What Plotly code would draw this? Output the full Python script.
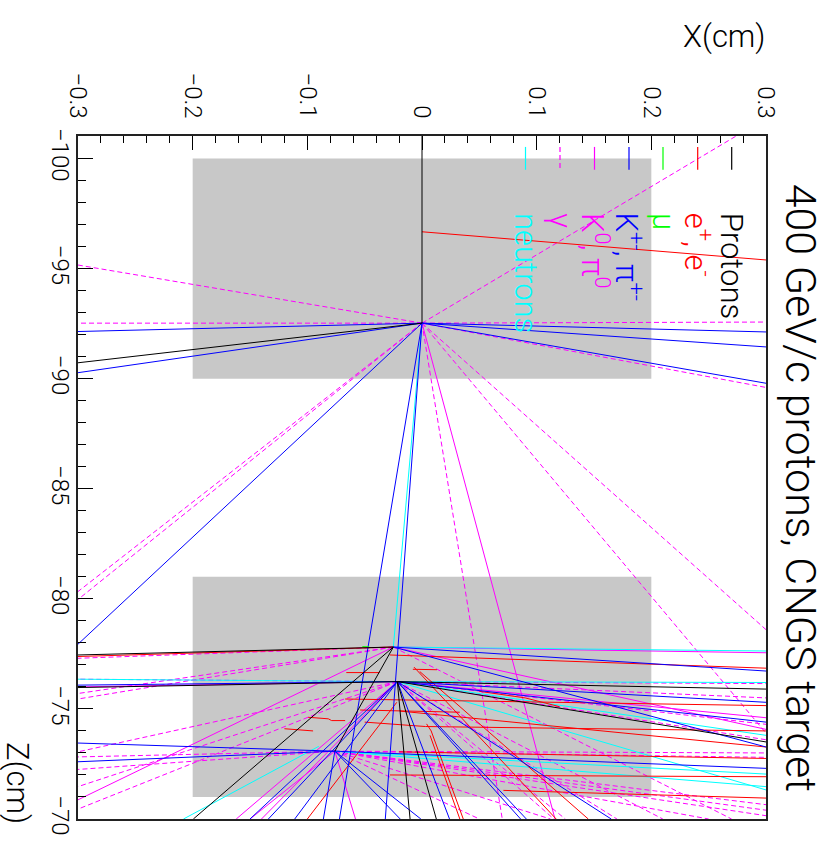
import plotly.graph_objects as go

# ---------------- data (cm) ----------------
# interaction vertices (X, Z)
V1 = (0.0, -92.52)
V2 = (-0.025, -77.81)
V3 = (-0.0215, -76.24)
V4 = (-0.076, -73.08)

# target segments (Z start, Z end) and half width in X
target_z_start = [-100.0, -81.0]
target_z_end = [-90.0, -71.0]
target_halfwidth = 0.2

# tracks: each is a list of (X, Z) points
protons = [
    [(0.0, -101.02), V1],
    [V1, (-0.3, -90.72)],
    [V2, (-0.3, -77.45)],
    [V3, (-0.3, -75.97)],
    [V2, (-0.1994, -70.0)],
    [V2, V4],
    [V3, (-0.0104, -70.0)],
    [V3, (0.0125, -70.0)],
    [V3, (0.3, -75.9)],
    [V3, (0.3, -73.5)],
]

electrons = [
    [(0.0, -96.67), (0.3, -95.39)],
    [V2, (-0.3, -77.38)],
    [(-0.028, -77.45), (0.3, -76.85)],
    [(-0.067, -75.45), (0.3, -75.15)],
    [(-0.019, -74.9), (0.3, -73.27)],
    [(-0.05, -74.4), (0.003, -74.2), (0.3, -74.0)],
    [(-0.028, -72.0), (0.3, -71.92)],
    [(0.071, -71.3), (0.3, -70.95)],
    [(-0.02, -73.05), (0.3, -72.75)],
    [(-0.008, -76.8), (0.013, -76.78)],
    [(-0.007, -76.9), (0.117, -70.0)],
    [(-0.002, -76.7), (0.145, -70.0)],
    [(0.004, -74.32), (0.008, -74.0), (0.036, -70.0)],
    [(0.007, -73.8), (0.033, -70.0)],
    [(-0.022, -75.3), (-0.1, -70.0)],
    [(-0.066, -76.65), (-0.037, -76.65)],
    [(-0.0993, -74.62), (-0.0817, -74.55), (-0.0788, -74.47), (-0.067, -74.47)],
    [(-0.054, -74.95), (0.033, -74.85)],
    [(-0.12, -74.1), (-0.095, -74.0)],
    [(0.05, -75.8), (0.09, -75.5), (0.12, -75.1)],
]

muons = [
    [(-0.052, -77.83), (-0.046, -77.82)],
]

charged_mesons = [
    [V1, (-0.3, -92.14)],
    [V1, (-0.3, -90.27)],
    [V1, (0.3, -92.12)],
    [V1, (0.3, -91.44)],
    [V1, (0.3, -89.79)],
    [V1, (-0.3, -77.94)],
    [V1, (-0.072, -70.0)],
    [V1, (-0.032, -70.0)],
    [V2, (0.3, -76.72)],
    [V2, (0.3, -73.27)],
    [V3, (-0.3, -76.08)],
    [V3, (0.3, -74.4)],
    [V3, (0.3, -75.3)],
    [V3, (0.091, -70.0)],
    [V3, (0.086, -70.0)],
    [V3, (0.165, -70.0)],
    [V3, (0.024, -70.0)],
    [V3, (-0.150, -70.0)],
    [V3, (-0.134, -70.0)],
    [V3, (-0.111, -70.0)],
    [V4, (-0.3, -73.45)],
    [V4, (-0.3, -72.6)],
    [V4, (0.3, -72.3)],
    [V4, (-0.086, -70.0)],
    [V4, (-0.019, -70.0)],
    [V4, (-0.001, -70.0)],
]

neutral_mesons = [
    [V1, (0.116, -70.0)],
    [V2, (0.3, -77.55)],
    [V2, (0.3, -74.07)],
    [V2, (-0.3, -70.87)],
    [V3, (-0.3, -76.0)],
    [V3, (-0.162, -70.0)],
    [V3, (-0.14, -70.0)],
    [V3, (0.3, -74.6)],
    [V4, (-0.058, -70.0)],
    [V4, (-0.15, -70.0)],
]

gammas = [
    [V1, (-0.3, -95.16)],
    [V1, (-0.3, -92.52)],
    [V1, (-0.3, -80.33)],
    [V1, (-0.3, -79.97)],
    [V1, (0.274, -101.02)],
    [V1, (0.3, -92.57)],
    [V1, (0.3, -89.6)],
    [V1, (0.3, -78.6)],
    [V1, (0.3, -73.9)],
    [V1, (0.07, -70.0)],
    [V2, (-0.3, -77.3)],
    [V2, (-0.3, -75.7)],
    [V2, (-0.3, -75.45)],
    [V2, (0.27, -70.0)],
    [V3, (-0.3, -76.35)],
    [V3, (-0.3, -73.05)],
    [V3, (-0.3, -71.47)],
    [V3, (-0.3, -70.45)],
    [V3, (0.3, -76.15)],
    [V3, (0.3, -75.5)],
    [V3, (0.3, -74.3)],
    [V3, (0.3, -73.6)],
    [V3, (0.115, -70.0)],
    [V3, (0.125, -70.0)],
    [V3, (0.21, -70.0)],
    [V3, (0.17, -70.0)],
    [V4, (-0.3, -72.82)],
    [V4, (-0.3, -72.25)],
    [V4, (0.3, -73.0)],
    [V4, (0.3, -72.8)],
    [V4, (0.3, -70.4)],
    [V4, (0.3, -70.65)],
    [V4, (0.3, -70.15)],
    [V4, (0.25, -70.0)],
    [V4, (0.05, -70.0)],
    [V4, (0.112, -70.0)],
]

neutrons = [
    [V1, V2],
    [V2, (0.3, -77.63)],
    [V3, (-0.3, -76.35)],
    [V3, (0.3, -76.2)],
    [V3, (0.3, -73.8)],
    [V3, (0.3, -71.32)],
    [(-0.09, -73.3), (-0.208, -70.0)],
    [V4, (0.3, -72.04)],
    [V4, (0.3, -71.47)],
]

legend_labels = ["Protons", "e<sup>+</sup>, e<sup>-</sup>", "μ",
                 "K<sup>+-</sup>, π<sup>+-</sup>", "K<sup>0</sup>, π<sup>0</sup>",
                 "γ", "neutrons"]
legend_colors = ["#000000", "#ff0000", "#00ff00", "#0000ff", "#ff00ff", "#ff00ff", "#00ffff"]
legend_dash = ["solid", "solid", "solid", "solid", "solid", "5px,3px", "solid"]

title_text = "400 GeV/c protons, CNGS target"
x_title = "X(cm)"
z_title = "Z(cm)"

# ---------------- figure ----------------
W, H = 828, 848
L, R, T, B = 78, 62, 136, 24
PW, PH = W - L - R, H - T - B

FONT = "Roboto, Lato, 'Liberation Sans', sans-serif"

fig = go.Figure()


def add_tracks(tracks, color, dash="solid", width=1.0):
    xs, ys = [], []
    for tr in tracks:
        for (x, z) in tr:
            xs.append(x)
            ys.append(z)
        xs.append(None)
        ys.append(None)
    fig.add_trace(go.Scatter(x=xs, y=ys, mode="lines", hoverinfo="skip",
                             line=dict(color=color, width=width, dash=dash),
                             showlegend=False))


add_tracks(gammas, "#ff00ff", "5px,3px")
add_tracks(neutral_mesons, "#ff00ff")
add_tracks(neutrons, "#00ffff")
add_tracks(electrons, "#ff0000")
add_tracks(charged_mesons, "#0000ff")
add_tracks(muons, "#00ff00")
add_tracks(protons, "#000000")

shapes = []
for z0, z1 in zip(target_z_start, target_z_end):
    shapes.append(dict(type="rect", xref="x", yref="y", x0=-target_halfwidth, x1=target_halfwidth,
                       y0=z0, y1=z1, fillcolor="#c8c8c8", line=dict(width=0), layer="below"))


def px2paper_x(px):
    return (px - L) / PW


def py2paper_y(py):
    return (H - B - py) / PH


annotations = []
# legend: samples and rotated labels
leg_px = [731.7, 697.7, 663.0, 629.0, 594.5, 560.0, 525.5]
for i, lab in enumerate(legend_labels):
    xp = px2paper_x(leg_px[i])
    shapes.append(dict(type="line", xref="paper", yref="paper", x0=xp, x1=xp,
                       y0=py2paper_y(147), y1=py2paper_y(170),
                       line=dict(color=legend_colors[i], width=1.2, dash=legend_dash[i])))
    annotations.append(dict(text=lab, xref="paper", yref="paper", x=xp, y=py2paper_y(211),
                            xanchor="center", yanchor="top", textangle=90, showarrow=False,
                            font=dict(family=FONT, size=31, color=legend_colors[i], weight=300)))

annotations.append(dict(text=title_text, xref="paper", yref="paper", x=px2paper_x(801),
                        y=py2paper_y(182), xanchor="center", yanchor="top", textangle=90,
                        showarrow=False, font=dict(family=FONT, size=43, color="#000", weight=300)))
annotations.append(dict(text=x_title, xref="paper", yref="paper", x=px2paper_x(767),
                        y=py2paper_y(15), xanchor="right", yanchor="top",
                        showarrow=False, font=dict(family=FONT, size=31, color="#000", weight=300)))
annotations.append(dict(text=z_title, xref="paper", yref="paper", x=px2paper_x(17),
                        y=py2paper_y(831), xanchor="center", yanchor="bottom", textangle=90,
                        showarrow=False, font=dict(family=FONT, size=31, color="#000", weight=300)))

fig.update_layout(
    width=W, height=H,
    margin=dict(l=L, r=R, t=T, b=B, pad=0),
    paper_bgcolor="white", plot_bgcolor="white",
    shapes=shapes, annotations=annotations, showlegend=False,
    xaxis=dict(range=[-0.3, 0.3], side="top", showgrid=False, zeroline=False,
               tick0=0, dtick=0.1, ticks="inside", ticklen=14, tickwidth=1, tickcolor="#000",
               minor=dict(dtick=0.02, ticks="inside", ticklen=7, tickwidth=1, tickcolor="#000"),
               tickangle=90, ticklabelstandoff=7,
               tickfont=dict(family=FONT, size=24, color="#000", weight=300),
               showline=True, mirror=True, linecolor="#222", linewidth=2),
    yaxis=dict(range=[-70, -101.02], showgrid=False, zeroline=False,
               tick0=-100, dtick=5, ticks="inside", ticklen=15, tickwidth=1, tickcolor="#000",
               minor=dict(dtick=1, ticks="inside", ticklen=8, tickwidth=1, tickcolor="#000"),
               tickangle=90, ticklabelstandoff=-5,
               tickfont=dict(family=FONT, size=24, color="#000", weight=300),
               showline=True, mirror=True, linecolor="#222", linewidth=2),
)

fig.write_html("out.html")
